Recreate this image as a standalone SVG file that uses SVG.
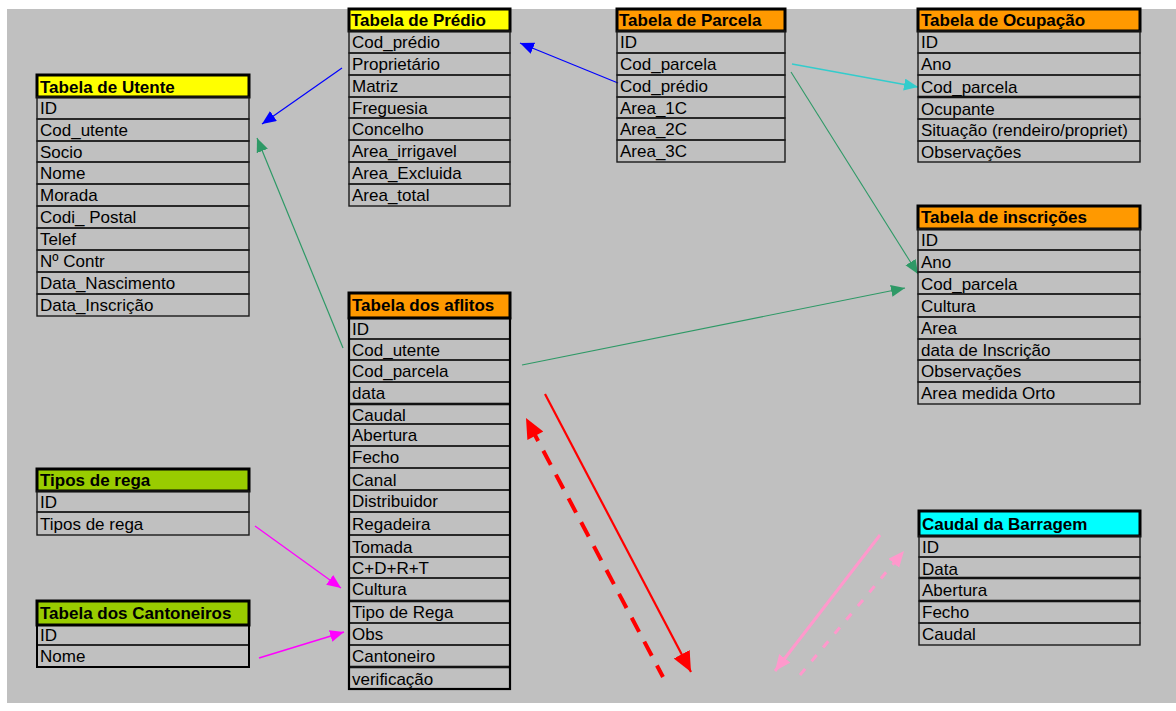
<svg xmlns="http://www.w3.org/2000/svg" width="1176" height="711" viewBox="0 0 1176 711">
<style>
.bg{fill:#c0c0c0}
.hd{stroke:#000;stroke-width:3}
.y{fill:#ffff00}.o{fill:#ff9900}.g{fill:#99cc00}.c{fill:#00ffff}
.r{fill:none;stroke:#1a1a1a;stroke-width:1.4}
.ht{font-family:"Liberation Sans",Arial,sans-serif;font-size:17px;font-weight:bold;fill:#000}
.t{font-family:"Liberation Sans",Arial,sans-serif;font-size:17px;fill:#000}
.thick{stroke:#000;stroke-width:2.5;fill:none}
.ln{fill:none}
</style>
<defs>
<marker id="ab" markerUnits="userSpaceOnUse" markerWidth="16" markerHeight="14" refX="14" refY="6" orient="auto"><path d="M0,0 L14,6 L0,12 Z" fill="#0000ff"/></marker>
<marker id="at" markerUnits="userSpaceOnUse" markerWidth="16" markerHeight="14" refX="14" refY="6" orient="auto"><path d="M0,0 L14,6 L0,12 Z" fill="#33cccc"/></marker>
<marker id="ag" markerUnits="userSpaceOnUse" markerWidth="16" markerHeight="14" refX="14" refY="6" orient="auto"><path d="M0,0 L14,6 L0,12 Z" fill="#2e9966"/></marker>
<marker id="am" markerUnits="userSpaceOnUse" markerWidth="16" markerHeight="14" refX="14" refY="6" orient="auto"><path d="M0,0 L14,6 L0,12 Z" fill="#ff00ff"/></marker>
<marker id="ar" markerUnits="userSpaceOnUse" markerWidth="22" markerHeight="20" refX="20" refY="9" orient="auto"><path d="M0,0 L20,9 L0,18 Z" fill="#ff0000"/></marker>
<marker id="ars" markerUnits="userSpaceOnUse" markerWidth="22" markerHeight="20" refX="0" refY="9" orient="auto"><path d="M20,0 L0,9 L20,18 Z" fill="#ff0000"/></marker>
<marker id="ap" markerUnits="userSpaceOnUse" markerWidth="18" markerHeight="16" refX="16" refY="7" orient="auto"><path d="M0,0 L16,7 L0,14 Z" fill="#ff99cc"/></marker>
</defs>
<rect x="0" y="0" width="1176" height="711" fill="#ffffff"/>
<rect class="bg" x="7" y="9" width="1169" height="694"/>

<g id="connectors">
<line class="ln" x1="342" y1="68" x2="262" y2="124" stroke="#0000ff" stroke-width="1.2" marker-end="url(#ab)"/>
<line class="ln" x1="618" y1="83" x2="520" y2="43" stroke="#0000ff" stroke-width="1.2" marker-end="url(#ab)"/>
<line class="ln" x1="792" y1="64" x2="918" y2="87" stroke="#33cccc" stroke-width="1.6" marker-end="url(#at)"/>
<line class="ln" x1="791" y1="72" x2="918" y2="274" stroke="#2e9966" stroke-width="1.1" marker-end="url(#ag)"/>
<line class="ln" x1="522" y1="365" x2="905" y2="288" stroke="#2e9966" stroke-width="1.2" marker-end="url(#ag)"/>
<line class="ln" x1="343" y1="348" x2="257" y2="138" stroke="#2e9966" stroke-width="1.2" marker-end="url(#ag)"/>
<line class="ln" x1="255" y1="526" x2="341" y2="588" stroke="#ff00ff" stroke-width="1.3" marker-end="url(#am)"/>
<line class="ln" x1="259" y1="658" x2="344" y2="632" stroke="#ff00ff" stroke-width="1.5" marker-end="url(#am)"/>
<line class="ln" x1="545" y1="394" x2="691" y2="672" stroke="#ff0000" stroke-width="2.2" marker-end="url(#ar)"/>
<line class="ln" x1="526" y1="418" x2="663" y2="677" stroke="#ff0000" stroke-width="4" stroke-dasharray="16,11" stroke-dashoffset="-10" marker-start="url(#ars)"/>
<line class="ln" x1="880" y1="535" x2="775" y2="671" stroke="#ff99cc" stroke-width="3" marker-end="url(#ap)"/>
<line class="ln" x1="800" y1="675" x2="904" y2="551" stroke="#ff99cc" stroke-width="3" stroke-dasharray="8,10" marker-end="url(#ap)"/>
</g>

<g id="tabela-utente">
<rect class="y hd" x="37" y="75" width="212" height="22"/>
<text class="ht" x="40" y="93">Tabela de Utente</text>
<rect class="r" x="37" y="97" width="212" height="22"/><text class="t" x="40" y="114">ID</text>
<rect class="r" x="37" y="119" width="212" height="22"/><text class="t" x="40" y="136">Cod_utente</text>
<rect class="r" x="37" y="141" width="212" height="21"/><text class="t" x="40" y="158">Socio</text>
<rect class="r" x="37" y="162" width="212" height="22"/><text class="t" x="40" y="179">Nome</text>
<rect class="r" x="37" y="184" width="212" height="22"/><text class="t" x="40" y="201">Morada</text>
<rect class="r" x="37" y="206" width="212" height="22"/><text class="t" x="40" y="223">Codi_ Postal</text>
<rect class="r" x="37" y="228" width="212" height="22"/><text class="t" x="40" y="245">Telef</text>
<rect class="r" x="37" y="250" width="212" height="22"/><text class="t" x="40" y="267">Nº Contr</text>
<rect class="r" x="37" y="272" width="212" height="22"/><text class="t" x="40" y="289">Data_Nascimento</text>
<rect class="r" x="37" y="294" width="212" height="22"/><text class="t" x="40" y="311">Data_Inscrição</text>
</g>

<g id="tabela-predio">
<rect class="y hd" x="349" y="9" width="161" height="22"/>
<text class="ht" x="351" y="26">Tabela de Prédio</text>
<rect class="r" x="349" y="31" width="161" height="22"/><text class="t" x="352" y="48">Cod_prédio</text>
<rect class="r" x="349" y="53" width="161" height="22"/><text class="t" x="352" y="70">Proprietário</text>
<rect class="r" x="349" y="75" width="161" height="22"/><text class="t" x="352" y="92">Matriz</text>
<rect class="r" x="349" y="97" width="161" height="21"/><text class="t" x="352" y="114">Freguesia</text>
<rect class="r" x="349" y="118" width="161" height="22"/><text class="t" x="352" y="135">Concelho</text>
<rect class="r" x="349" y="140" width="161" height="22"/><text class="t" x="352" y="157">Area_irrigavel</text>
<rect class="r" x="349" y="162" width="161" height="22"/><text class="t" x="352" y="179">Area_Excluida</text>
<rect class="r" x="349" y="184" width="161" height="22"/><text class="t" x="352" y="201">Area_total</text>
</g>

<g id="tabela-parcela">
<rect class="o hd" x="617" y="9" width="168" height="22"/>
<text class="ht" x="619" y="26">Tabela de Parcela</text>
<rect class="r" x="617" y="31" width="168" height="22"/><text class="t" x="620" y="48">ID</text>
<rect class="r" x="617" y="53" width="168" height="22"/><text class="t" x="620" y="70">Cod_parcela</text>
<rect class="r" x="617" y="75" width="168" height="22"/><text class="t" x="620" y="92">Cod_prédio</text>
<rect class="r" x="617" y="97" width="168" height="21"/><text class="t" x="620" y="114">Area_1C</text>
<rect class="r" x="617" y="118" width="168" height="22"/><text class="t" x="620" y="135">Area_2C</text>
<rect class="r" x="617" y="140" width="168" height="22"/><text class="t" x="620" y="157">Area_3C</text>
</g>

<g id="tabela-ocupacao">
<rect class="o hd" x="918" y="9" width="222" height="22"/>
<text class="ht" x="921" y="26">Tabela de Ocupação</text>
<rect class="r" x="918" y="31" width="222" height="22"/><text class="t" x="921" y="48">ID</text>
<rect class="r" x="918" y="53" width="222" height="22"/><text class="t" x="921" y="70">Ano</text>
<rect class="r" x="918" y="75" width="222" height="22"/><text class="t" x="921" y="93">Cod_parcela</text>
<line class="thick" x1="918" y1="97" x2="1140" y2="97"/>
<rect class="r" x="918" y="97" width="222" height="22"/><text class="t" x="921" y="115">Ocupante</text>
<rect class="r" x="918" y="119" width="222" height="22"/><text class="t" x="921" y="136">Situação (rendeiro/propriet)</text>
<rect class="r" x="918" y="141" width="222" height="21"/><text class="t" x="921" y="158">Observações</text>
</g>

<g id="tabela-inscricoes">
<rect class="o hd" x="918" y="206" width="222" height="23"/>
<text class="ht" x="921" y="223">Tabela de inscrições</text>
<rect class="r" x="918" y="229" width="222" height="21"/><text class="t" x="921" y="246">ID</text>
<rect class="r" x="918" y="250" width="222" height="22"/><text class="t" x="921" y="268">Ano</text>
<rect class="r" x="918" y="272" width="222" height="22"/><text class="t" x="921" y="290">Cod_parcela</text>
<rect class="r" x="918" y="294" width="222" height="23"/><text class="t" x="921" y="312">Cultura</text>
<rect class="r" x="918" y="317" width="222" height="22"/><text class="t" x="921" y="334">Area</text>
<rect class="r" x="918" y="339" width="222" height="21"/><text class="t" x="921" y="356">data de Inscrição</text>
<rect class="r" x="918" y="360" width="222" height="22"/><text class="t" x="921" y="377">Observações</text>
<rect class="r" x="918" y="382" width="222" height="22"/><text class="t" x="921" y="399">Area medida Orto</text>
</g>

<g id="tabela-aflitos">
<rect class="o hd" x="349" y="293" width="161" height="25"/>
<text class="ht" x="352" y="311">Tabela dos aflitos</text>
<rect class="r" x="349" y="318" width="161" height="21"/><text class="t" x="352" y="335">ID</text>
<rect class="r" x="349" y="339" width="161" height="21"/><text class="t" x="352" y="356">Cod_utente</text>
<rect class="r" x="349" y="360" width="161" height="22"/><text class="t" x="352" y="377">Cod_parcela</text>
<rect class="r" x="349" y="382" width="161" height="22"/><text class="t" x="352" y="399">data</text>
<line class="thick" x1="349" y1="404" x2="510" y2="404"/>
<rect class="r" x="349" y="404" width="161" height="20"/><text class="t" x="352" y="421">Caudal</text>
<rect class="r" x="349" y="424" width="161" height="22"/><text class="t" x="352" y="441">Abertura</text>
<rect class="r" x="349" y="446" width="161" height="22"/><text class="t" x="352" y="463">Fecho</text>
<rect class="r" x="349" y="468" width="161" height="22"/><text class="t" x="352" y="486">Canal</text>
<rect class="r" x="349" y="490" width="161" height="22"/><text class="t" x="352" y="507">Distribuidor</text>
<rect class="r" x="349" y="512" width="161" height="23"/><text class="t" x="352" y="530">Regadeira</text>
<rect class="r" x="349" y="535" width="161" height="22"/><text class="t" x="352" y="553">Tomada</text>
<rect class="r" x="349" y="557" width="161" height="21"/><text class="t" x="352" y="574">C+D+R+T</text>
<rect class="r" x="349" y="578" width="161" height="23"/><text class="t" x="352" y="595">Cultura</text>
<line class="thick" x1="349" y1="601" x2="510" y2="601"/>
<rect class="r" x="349" y="601" width="161" height="22"/><text class="t" x="352" y="618">Tipo de Rega</text>
<rect class="r" x="349" y="623" width="161" height="22"/><text class="t" x="352" y="640">Obs</text>
<rect class="r" x="349" y="645" width="161" height="22"/><text class="t" x="352" y="662">Cantoneiro</text>
<line class="thick" x1="349" y1="667" x2="510" y2="667"/>
<rect class="r" x="349" y="667" width="161" height="22"/><text class="t" x="352" y="685">verificação</text>
<rect x="349" y="318" width="161" height="371" fill="none" stroke="#000" stroke-width="2.2"/>
</g>

<g id="tipos-de-rega">
<rect class="g hd" x="37" y="469" width="212" height="22"/>
<text class="ht" x="40" y="486">Tipos de rega</text>
<rect class="r" x="37" y="491" width="212" height="21"/><text class="t" x="40" y="508">ID</text>
<rect class="r" x="37" y="512" width="212" height="23"/><text class="t" x="40" y="530">Tipos de rega</text>
</g>

<g id="tabela-cantoneiros">
<rect class="g hd" x="37" y="601" width="212" height="24"/>
<text class="ht" x="40" y="619">Tabela dos Cantoneiros</text>
<rect class="r" x="37" y="625" width="212" height="20"/><text class="t" x="40" y="641">ID</text>
<rect class="r" x="37" y="645" width="212" height="22"/><text class="t" x="40" y="662">Nome</text>
<rect x="37" y="625" width="212" height="42" fill="none" stroke="#000" stroke-width="2"/>
</g>

<g id="caudal-barragem">
<rect class="c hd" x="919" y="511" width="221" height="25"/>
<text class="ht" x="922" y="530">Caudal da Barragem</text>
<rect class="r" x="919" y="536" width="221" height="21"/><text class="t" x="922" y="553">ID</text>
<rect class="r" x="919" y="557" width="221" height="21"/><text class="t" x="922" y="575">Data</text>
<line class="thick" x1="919" y1="578" x2="1140" y2="578"/>
<rect class="r" x="919" y="578" width="221" height="23"/><text class="t" x="922" y="596">Abertura</text>
<line class="thick" x1="919" y1="601" x2="1140" y2="601"/>
<rect class="r" x="919" y="601" width="221" height="22"/><text class="t" x="922" y="618">Fecho</text>
<rect class="r" x="919" y="623" width="221" height="22"/><text class="t" x="922" y="640">Caudal</text>
</g>
</svg>
